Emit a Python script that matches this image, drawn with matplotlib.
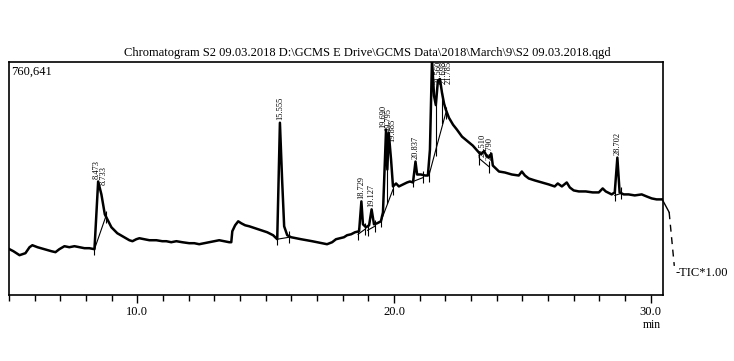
import matplotlib
matplotlib.use('Agg')
import matplotlib.pyplot as plt
from matplotlib.ticker import MultipleLocator, FixedLocator

plt.rcParams['font.family'] = ['Liberation Serif', 'DejaVu Serif']

# retention time (min) and TIC intensity
rt = [5.02, 5.17, 5.41, 5.64, 5.80, 5.91, 6.11, 6.38, 6.65, 6.81, 6.96, 7.16, 7.35, 7.55, 7.74,
      7.94, 8.13, 8.33, 8.473, 8.60, 8.733, 8.99, 9.22, 9.49, 9.69, 9.81, 9.96, 10.08, 10.27, 10.47,
      10.74, 10.97, 11.13, 11.32, 11.52, 11.75, 12.02, 12.22, 12.41, 12.61, 12.80, 13.00, 13.19, 13.38,
      13.58, 13.66, 13.70, 13.81, 13.93, 14.05, 14.20, 14.36, 14.59, 14.82, 15.06, 15.29, 15.45, 15.555,
      15.64, 15.72, 15.84, 15.99, 16.19, 16.38, 16.61, 16.81, 17.00, 17.20, 17.39, 17.59, 17.74, 17.90,
      18.05, 18.17, 18.33, 18.48, 18.64, 18.729, 18.79, 18.91, 19.03, 19.127, 19.22, 19.34, 19.49, 19.57,
      19.69, 19.74, 19.795, 19.885, 19.96, 20.08, 20.19, 20.35, 20.51, 20.62, 20.74, 20.837, 20.90, 21.05,
      21.21, 21.32, 21.40, 21.48, 21.56, 21.63, 21.71, 21.79, 21.87, 21.95, 22.02, 22.14, 22.30, 22.45,
      22.65, 22.84, 23.07, 23.31, 23.40, 23.51, 23.60, 23.70, 23.79, 23.85, 24.09, 24.32, 24.59, 24.86,
      24.98, 25.10, 25.25, 25.49, 25.76, 26.03, 26.26, 26.38, 26.54, 26.73, 26.85, 27.00, 27.20, 27.47,
      27.74, 27.98, 28.13, 28.25, 28.48, 28.60, 28.702, 28.79, 28.95, 29.14, 29.38, 29.65, 29.84, 30.04,
      30.23, 30.45]
tic = [149500, 143000, 130000, 136500, 156000, 162500, 156000, 149500, 143000, 139800, 149500, 159300, 156000,
       159300, 156000, 152800, 152800, 149500, 370600, 328400, 263300, 221100, 201600, 188600, 178800, 175600,
       182100, 185300, 182100, 178800, 178800, 175600, 175600, 172300, 175600, 172300, 169100, 169100, 165800,
       169100, 172300, 175600, 178800, 175600, 172300, 172300, 208100, 227600, 240600, 234100, 227600, 224300,
       217800, 211300, 204800, 195100, 182100, 562400, 377100, 224300, 195100, 188600, 185300, 182100, 178800,
       175600, 172300, 169100, 165800, 172300, 182100, 185300, 188600, 195100, 198300, 204800, 208100, 305600,
       230800, 221100, 227600, 279600, 230800, 234100, 240600, 269800, 539700, 409600, 529900, 442100, 354400,
       364100, 354400, 360900, 367400, 370600, 367400, 435600, 393400, 393400, 390100, 390100, 474600, 770000,
       650000, 620000, 700000, 705000, 660000, 625000, 604700, 578700, 555900, 540000, 516900, 503900, 487700,
       464900, 460000, 470000, 455100, 448600, 461600, 422600, 403100, 399900, 393400, 390100, 403100, 390100,
       380400, 373900, 367400, 360900, 354400, 364100, 354400, 367400, 351000, 341400, 338100, 338100, 334900,
       334900, 347900, 338100, 328400, 334900, 448600, 334900, 328400, 328400, 325100, 328400, 321800, 315300,
       312100, 312100]

# integration baselines (start/end rt, start/end tic)
base_rt = [(8.33, 8.76), (15.45, 15.92), (18.60, 18.86), (18.97, 19.25), (19.49, 19.96),
           (20.74, 21.14), (21.36, 21.63, 22.02), (23.33, 23.70), (28.60, 28.85)]
base_tic = [(149500, 253300), (182100, 188600), (198300, 214000), (211300, 224300), (240600, 344600),
            (370600, 383600), (390100, 474600, 594900), (445000, 419000), (325100, 331600)]

peak_labels = ['8.473', '8.733', '15.555', '18.729', '19.127', '19.690', '19.795', '19.885',
               '20.837', '21.560', '21.698', '21.785', '23.510', '23.790', '28.702']
label_rt = [8.42, 8.70, 15.555, 18.729, 19.127, 19.60, 19.77, 19.94,
            20.837, 21.74, 21.93, 22.12, 23.47, 23.74, 28.702]
label_tic = [378000, 360000, 570000, 312000, 288000, 546000, 536000, 500000,
             443000, 690000, 690000, 690000, 452000, 440000, 458000]

fig = plt.figure(figsize=(7.34, 3.61), dpi=100)
ax = fig.add_axes([9 / 734, 66 / 361, 654 / 734, 233 / 361])

ax.plot(rt, tic, color='black', lw=1.8)
for bx, by in zip(base_rt, base_tic):
    ax.plot(bx, by, color='black', lw=0.8)
    ax.plot(bx, by, ls='none', marker='|', ms=8, mew=0.8, color='black')

# valley drop lines in the 19.7 and 21.5 clusters
ax.plot([19.74, 19.74], [409600, 300000], color='black', lw=0.8)
ax.plot([21.63, 21.63], [620000, 474600], color='black', lw=0.8)
ax.plot([21.87, 21.87], [660000, 560000], color='black', lw=0.8)

for txt, x, y in zip(peak_labels, label_rt, label_tic):
    ax.text(x, y, txt, rotation=90, ha='center', va='bottom', fontsize=6)

ax.set_xlim(5.0, 30.48)
ax.set_ylim(0, 760641)
ax.set_yticks([])
ax.xaxis.set_major_locator(FixedLocator([10, 20, 30]))
ax.xaxis.set_minor_locator(MultipleLocator(1))
ax.set_xticklabels(['10.0', '20.0', '30.0'])
ax.tick_params(axis='x', which='major', direction='out', length=6, width=1, labelsize=9, pad=2)
ax.tick_params(axis='x', which='minor', direction='out', length=4, width=1)
for s in ax.spines.values():
    s.set_linewidth(1.2)

ax.text(0.003, 0.985, '760,641', transform=ax.transAxes, ha='left', va='top', fontsize=9)

# trace running off the right edge towards the channel label
ax.plot([30.45, 30.72], [312100, 270000], color='black', lw=1.0, clip_on=False)
ax.plot([30.72, 30.92], [270000, 95000], color='black', lw=1.0, ls=(0, (5, 4)), clip_on=False)
fig.text(676 / 734, 1 - 273 / 361, '-TIC*1.00', ha='left', va='center', fontsize=9)

fig.text(367 / 734, 1 - 53 / 361,
         'Chromatogram S2 09.03.2018 D:\\GCMS E Drive\\GCMS Data\\2018\\March\\9\\S2 09.03.2018.qgd',
         ha='center', va='center', fontsize=9)
fig.text(652 / 734, 1 - 325 / 361, 'min', ha='center', va='center', fontsize=8.5)

fig.savefig('out.png', dpi=100)
